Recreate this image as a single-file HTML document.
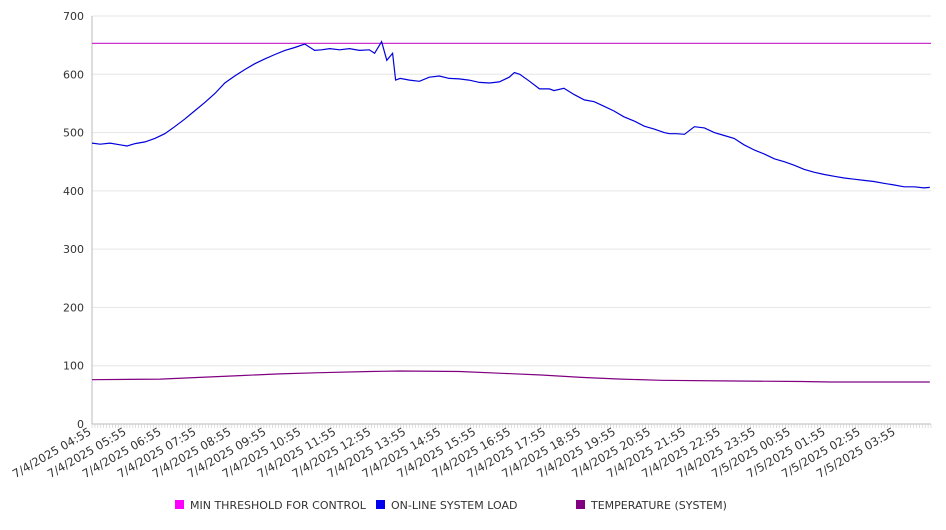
<!DOCTYPE html>
<html><head><meta charset="utf-8"><style>
body{margin:0;background:#fff;font-family:"DejaVu Sans","Liberation Sans",sans-serif}
svg text{font-family:"DejaVu Sans","Liberation Sans",sans-serif;fill:#333}
</style></head><body>
<svg id="chart" width="946" height="526" xmlns="http://www.w3.org/2000/svg"></svg>
<script>
const xLabels=["7/4/2025 04:55","7/4/2025 05:55","7/4/2025 06:55","7/4/2025 07:55","7/4/2025 08:55","7/4/2025 09:55","7/4/2025 10:55","7/4/2025 11:55","7/4/2025 12:55","7/4/2025 13:55","7/4/2025 14:55","7/4/2025 15:55","7/4/2025 16:55","7/4/2025 17:55","7/4/2025 18:55","7/4/2025 19:55","7/4/2025 20:55","7/4/2025 21:55","7/4/2025 22:55","7/4/2025 23:55","7/5/2025 00:55","7/5/2025 01:55","7/5/2025 02:55","7/5/2025 03:55"];
const yTicks=[0,100,200,300,400,500,600,700];
const thresholdValue=653;
const loadMinutes=[0,14,31,48,60,74,91,108,125,142,159,176,194,211,228,245,262,279,296,314,331,348,365,382,394,408,425,442,459,476,485,497,506,516,521,529,545,562,579,596,613,630,647,665,682,699,716,725,734,751,768,785,793,810,828,845,862,879,896,913,930,948,965,982,991,1003,1017,1034,1051,1068,1085,1102,1119,1137,1154,1171,1188,1205,1222,1239,1257,1274,1291,1308,1325,1342,1359,1377,1394,1411,1428,1438];
const loadValues=[482,480,482,479,477,481,484,490,498,510,523,537,552,567,585,597,608,618,626,634,641,646,652,641,642,644,642,644,641,642,636,656,624,636,590,593,590,588,595,597,593,592,590,586,585,587,595,603,600,588,575,575,572,576,565,556,553,545,537,527,520,511,506,500,498,498,497,510,508,500,495,490,479,470,463,455,450,444,437,432,428,425,422,420,418,416,413,410,407,407,405,406];
const tempMinutes=[0,117,185,254,322,391,477,528,631,703,771,840,908,977,1080,1217,1268,1438];
const tempValues=[76,77,80,83,86,88,90,91,90,87,84,80,77,75,74,73,72,72];

const svg=document.getElementById('chart');
const NS='http://www.w3.org/2000/svg';
const L=92,R=931,T=16,B=424,TOTAL=1440,YMAX=700;
const xs=m=>L+(R-L)*m/TOTAL;
const ys=v=>B-(B-T)*v/YMAX;
function mk(tag,attrs,parent){const e=document.createElementNS(NS,tag);for(const k in attrs)e.setAttribute(k,attrs[k]);(parent||svg).appendChild(e);return e;}

yTicks.forEach(v=>{
  const g=mk('line',{x1:L,x2:R,y1:ys(v),y2:ys(v),stroke:v===0?'#bbb':'#e6e6e6','stroke-width':1});
  
  
  const t=mk('text',{x:L-8,y:ys(v)+4,'text-anchor':'end','font-size':11});
  t.textContent=v;
  
  
});
const ax=mk('line',{x1:L,x2:L,y1:T,y2:B,stroke:'#bbb'});


for(let m=0;m<=TOTAL;m+=5){
  const tk=mk('line',{x1:xs(m),x2:xs(m),y1:B,y2:B+4,stroke:'#ccc','stroke-width':0.6});
  
  
}
xLabels.forEach((s,i)=>{
  const x=xs(i*60),y=B+10;
  const t=mk('text',{x:x,y:y,'text-anchor':'end','font-size':11.5,transform:`rotate(-30 ${x} ${y})`});
  t.textContent=s;
  
  
});
const th=mk('line',{x1:L,x2:R,y1:ys(thresholdValue),y2:ys(thresholdValue),stroke:'#cc33cc','stroke-width':1.2});


function series(mins,vals,color,name){
  const d=mins.map((m,i)=>(i?'L':'M')+xs(m).toFixed(1)+' '+ys(vals[i]).toFixed(1)).join(' ');
  const p=mk('path',{d:d,fill:'none',stroke:color,'stroke-width':1.2});
  
  
}
series(loadMinutes,loadValues,'#0000dd','online-system-load-line');
series(tempMinutes,tempValues,'#800080','temperature-line');
const leg=[['MIN THRESHOLD FOR CONTROL','#ff00ff',175],['ON-LINE SYSTEM LOAD','#0000ee',376],['TEMPERATURE (SYSTEM)','#800080',576]];
leg.forEach(([s,c,x])=>{
  const g=mk('g',{});
  
  
  mk('rect',{x:x,y:500,width:9,height:9,fill:c},g);
  const t=mk('text',{x:x+15,y:509,'font-size':11},g);
  t.textContent=s;
});
</script>
</body></html>
